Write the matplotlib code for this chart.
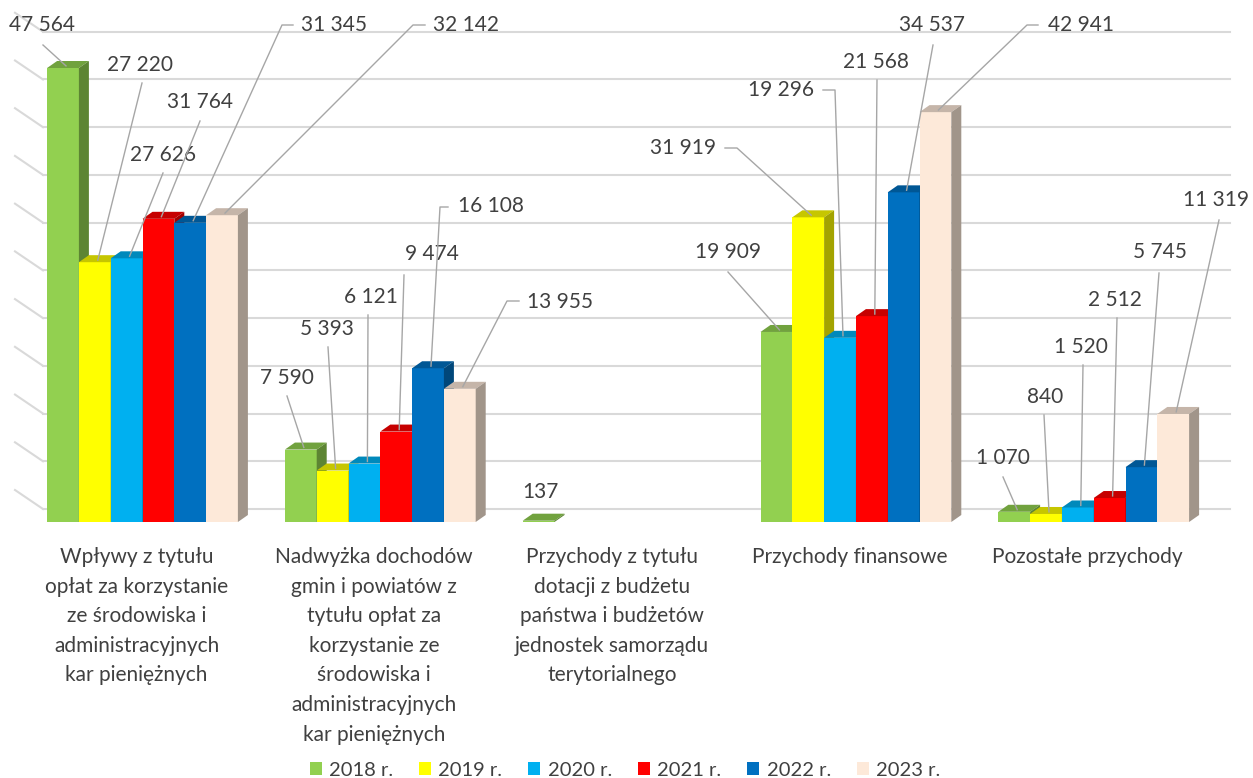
import matplotlib.pyplot as plt
from matplotlib.patches import Patch
from matplotlib.lines import Line2D
from matplotlib.transforms import IdentityTransform
import numpy as np

plt.rcParams['font.family'] = ['Lato', 'DejaVu Sans']

# data (tys. zł)
categories = ['Wpływy z tytułu\nopłat za korzystanie\nze środowiska i\nadministracyjnych\nkar pieniężnych',
              'Nadwyżka dochodów\ngmin i powiatów z\ntytułu opłat za\nkorzystanie ze\nśrodowiska i\nadministracyjnych\nkar pieniężnych',
              'Przychody z tytułu\ndotacji z budżetu\npaństwa i budżetów\njednostek samorządu\nterytorialnego',
              'Przychody finansowe',
              'Pozostałe przychody']
years = ['2018 r.', '2019 r.', '2020 r.', '2021 r.', '2022 r.', '2023 r.']
v2018 = [47564, 7590, 137, 19909, 1070]
v2019 = [27220, 5393, None, 31919, 840]
v2020 = [27626, 6121, None, 19296, 1520]
v2021 = [31764, 9474, None, 21568, 2512]
v2022 = [31345, 16108, None, 34537, 5745]
v2023 = [32142, 13955, None, 42941, 11319]
series = [v2018, v2019, v2020, v2021, v2022, v2023]

colors = ['#92D050', '#FFFF00', '#00B0F0', '#FF0000', '#0070C0', '#FDE9D9']

# label layout in pixels from top-left: (text x, text y, leader points before the bar)
label_pos = {
    (0, 0): (42, 25, [(43, 45)]),
    (1, 0): (140, 65, [(142, 83)]),
    (2, 0): (163, 155, [(163, 173)]),
    (3, 0): (200, 102, [(200, 121)]),
    (4, 0): (334, 25, [(293, 25), (282, 25)]),
    (5, 0): (466, 25, [(425, 25), (413, 25)]),
    (0, 1): (287, 378, [(287, 396)]),
    (1, 1): (327, 329, [(328, 347)]),
    (2, 1): (371, 297, [(368, 315)]),
    (3, 1): (432, 254, [(404, 275)]),
    (4, 1): (491, 206, [(448, 207), (440, 207)]),
    (5, 1): (560, 302, [(519, 301), (507, 301)]),
    (0, 2): (540, 492, []),
    (0, 3): (728, 252, [(728, 272)]),
    (1, 3): (683, 148, [(725, 148), (737, 148)]),
    (2, 3): (781, 90, [(823, 90), (835, 90)]),
    (3, 3): (876, 62, [(877, 80)]),
    (4, 3): (932, 25, [(933, 45)]),
    (5, 3): (1081, 25, [(1038, 25), (1027, 25)]),
    (0, 4): (1003, 458, [(1003, 477)]),
    (1, 4): (1045, 397, [(1044, 415)]),
    (2, 4): (1081, 347, [(1083, 365)]),
    (3, 4): (1115, 300, [(1117, 318)]),
    (4, 4): (1160, 252, [(1159, 273)]),
    (5, 4): (1216, 200, [(1219, 220)]),
}

W, H = 1253, 778
fig = plt.figure(figsize=(W / 100, H / 100), dpi=100)

px_x = 237.8          # pixels per category
px_y = 0.009545       # pixels per unit
x0 = 142.5
ax = fig.add_axes([(x0 - 0.6 * px_x) / W, (H - 522) / H, 5.2 * px_x / W, 50000 * px_y / H])
ax.set_xlim(-0.6, 4.6)
ax.set_ylim(0, 50000)
ax.axis('off')

dx = 10 / px_x
dy = 7 / px_y
bw = 31.8 / px_x
back = 13 / px_y

def shade(c, f):
    r, g, b = [int(c[i:i + 2], 16) for i in (1, 3, 5)]
    return '#%02x%02x%02x' % (int(r * f), int(g * f), int(b * f))

# back wall and left wall grid
xl_front = (15 - x0) / px_x
xl_back = (43 - x0) / px_x
xr = (1230 - x0) / px_x
for k in range(11):
    yk = k * 5000 + back
    ax.plot([xl_back, xr], [yk, yk], color='#D9D9D9', lw=1.5, zorder=1, clip_on=False)
    ax.plot([xl_front, xl_back], [yk + 19 / px_y, yk], color='#D9D9D9', lw=1.5, zorder=1, clip_on=False)

x = np.arange(len(categories))
for j, vals in enumerate(series):
    c = colors[j]
    top_c = shade(c, 0.78)
    side_c = shade(c, 0.64)
    for i, v in enumerate(vals):
        if v is None:
            continue
        xc = i + (j - 2.5) * bw
        xa, xb = xc - bw / 2, xc + bw / 2
        ax.bar(xc, v, width=bw, color=c, zorder=3 + j, linewidth=0)
        ax.fill([xa, xb, xb + dx, xa + dx], [v, v, v + dy, v + dy], color=top_c, zorder=3 + j, lw=0)
        ax.fill([xb, xb + dx, xb + dx, xb], [0, dy, v + dy, v], color=side_c, zorder=3 + j, lw=0)

fig.canvas.draw()
ident = IdentityTransform()
for (j, i), (tx, ty, pts) in label_pos.items():
    v = series[j][i]
    xc = i + (j - 2.5) * bw
    ax.text(tx, H - ty, f'{v:,}'.replace(',', ' '), transform=ident, ha='center', va='center',
            fontsize=15, color='#404040', zorder=20)
    if pts:
        bx, by = ax.transData.transform((xc + dx * 0.3, v + dy * 0.3))
        xs = [p[0] for p in pts] + [bx]
        ys = [H - p[1] for p in pts] + [by]
        fig.add_artist(Line2D(xs, ys, transform=ident, color='#A6A6A6', lw=1, zorder=20))

for i, cat in enumerate(categories):
    ax.text(i - 6 / px_x, -25 / px_y, cat, ha='center', va='top', fontsize=15,
            color='#404040', linespacing=1.6, clip_on=False)

handles = [Patch(facecolor=c) for c in colors]
fig.legend(handles, years, loc='lower center', ncol=6, bbox_to_anchor=(625 / W, -0.024),
           frameon=False, handlelength=0.6, handleheight=0.6, handletextpad=0.35,
           columnspacing=1.3, fontsize=14.5, labelcolor='#404040')

fig.savefig('out.png', dpi=100)
